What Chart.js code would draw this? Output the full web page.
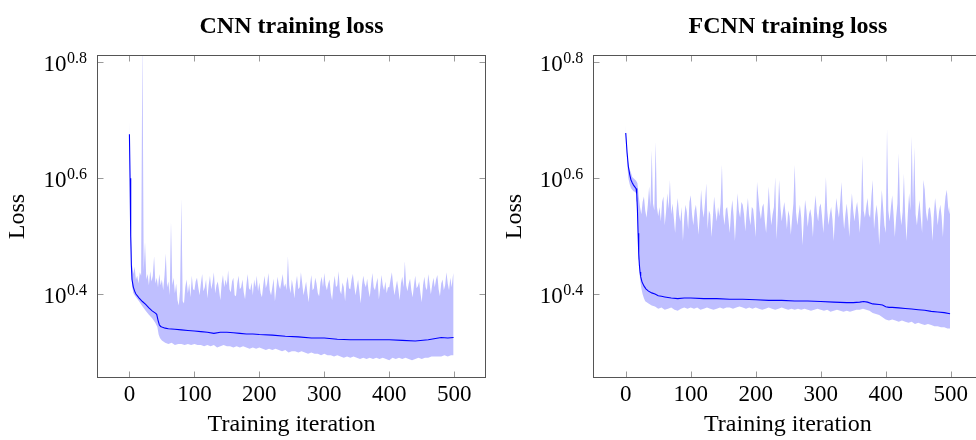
<!DOCTYPE html>
<html>
<head>
<meta charset="utf-8">
<script src="https://cdn.jsdelivr.net/npm/chart.js@4.4.1/dist/chart.umd.min.js"></script>
<style>
  html, body { margin: 0; padding: 0; background: #fff; overflow: hidden; width: 976px; height: 440px; }
  canvas { position: absolute; top: 0; }
  #cnn { left: 0; }
  #fcnn { left: 490px; }
</style>
</head>
<body>
<canvas id="cnn" width="490" height="440"></canvas>
<canvas id="fcnn" width="500" height="440"></canvas>
<script>
// axis setup
const X_MIN = -49.9;
const X_MAX = 548.9;
const X_TICKS = [0, 100, 200, 300, 400, 500];
const Y_TICK_EXP = [0.4, 0.6, 0.8];
const Y_TICK_LABELS = ["0.4", "0.6", "0.8"];
const Y_MIN_EXP = 0.255;
const Y_MAX_EXP = 0.8126;

// iterations where the upper edge of the band was read (both panels)
const UP_ITERS = [
  0, 2, 4, 6, 8, 10, 12, 14, 16, 18, 20, 22, 24, 26, 28, 30, 32, 34, 36, 38, 40, 42, 44, 46, 48,
  50, 52, 54, 56, 58, 60, 62, 64, 66, 68, 70, 72, 74, 76, 78, 80, 82, 84, 86, 88, 90, 92, 94, 96, 98,
  100, 102, 104, 106, 108, 110, 112, 114, 116, 118, 120, 122, 124, 126, 128, 130, 132, 134, 136, 138, 140, 142, 144, 146, 148,
  150, 152, 154, 156, 158, 160, 162, 164, 166, 168, 170, 172, 174, 176, 178, 180, 182, 184, 186, 188, 190, 192, 194, 196, 198,
  200, 202, 204, 206, 208, 210, 212, 214, 216, 218, 220, 222, 224, 226, 228, 230, 232, 234, 236, 238, 240, 242, 244, 246, 248,
  250, 252, 254, 256, 258, 260, 262, 264, 266, 268, 270, 272, 274, 276, 278, 280, 282, 284, 286, 288, 290, 292, 294, 296, 298,
  300, 302, 304, 306, 308, 310, 312, 314, 316, 318, 320, 322, 324, 326, 328, 330, 332, 334, 336, 338, 340, 342, 344, 346, 348,
  350, 352, 354, 356, 358, 360, 362, 364, 366, 368, 370, 372, 374, 376, 378, 380, 382, 384, 386, 388, 390, 392, 394, 396, 398,
  400, 402, 404, 406, 408, 410, 412, 414, 416, 418, 420, 422, 424, 426, 428, 430, 432, 434, 436, 438, 440, 442, 444, 446, 448,
  450, 452, 454, 456, 458, 460, 462, 464, 466, 468, 470, 472, 474, 476, 478, 480, 482, 484, 486, 488, 490, 492, 494, 496, 498,
  499
];

// ---- CNN ----
const CNN_MEAN_ITERS = [0, 1, 2, 3, 4, 6, 8, 10, 15, 20, 25, 30, 35, 40, 42, 44, 46, 48, 50, 55, 60, 70, 80, 90, 100,
  110, 120, 130, 140, 150, 160, 170, 180, 190, 200, 220, 240, 260, 280, 300, 320, 340, 360, 380, 400, 420, 440, 460, 480, 490, 499];
const CNN_MEAN = [4.742, 3.981, 3.162, 2.818, 2.661, 2.582, 2.541, 2.512, 2.472, 2.438, 2.410, 2.377, 2.349, 2.328, 2.317, 2.265, 2.223, 2.208, 2.203, 2.193, 2.188, 2.183, 2.178, 2.173, 2.168,
  2.163, 2.158, 2.148, 2.158, 2.158, 2.153, 2.148, 2.143, 2.143, 2.138, 2.133, 2.123, 2.118, 2.109, 2.109, 2.099, 2.094, 2.094, 2.094, 2.094, 2.089, 2.084, 2.094, 2.113, 2.109, 2.113];

const CNN_LOW_ITERS = [0, 2, 4, 6, 8, 10, 15, 20, 25, 30, 35, 40, 43, 45, 47, 50,
  55, 60, 65, 70, 75, 80, 85, 90, 95, 100, 105, 110, 115, 120, 125, 130, 135, 140, 145, 150,
  155, 160, 165, 170, 175, 180, 185, 190, 195, 200, 205, 210, 215, 220, 225, 230, 235, 240, 245, 250,
  255, 260, 265, 270, 275, 280, 285, 290, 295, 300, 305, 310, 315, 320, 325, 330, 335, 340, 345, 350,
  355, 360, 365, 370, 375, 380, 385, 390, 395, 400, 405, 410, 415, 420, 425, 430, 435, 440, 445, 450,
  455, 460, 465, 470, 475, 480, 485, 490, 495, 499];
const CNN_LOW = [4.677, 3.090, 2.600, 2.523, 2.500, 2.483, 2.438, 2.393, 2.349, 2.312, 2.280, 2.239, 2.203, 2.138, 2.109, 2.089,
  2.07, 2.06, 2.07, 2.05, 2.06, 2.06, 2.05, 2.06, 2.05, 2.06, 2.05, 2.05, 2.04, 2.05, 2.04, 2.05, 2.03, 2.04, 2.05, 2.04,
  2.04, 2.03, 2.04, 2.03, 2.04, 2.03, 2.02, 2.03, 2.02, 2.03, 2.02, 2.01, 2.02, 2.01, 2.02, 2.01, 2.00, 2.01, 1.99, 2.00,
  2.00, 1.99, 2.00, 1.99, 1.98, 1.99, 1.98, 1.98, 1.97, 1.98, 1.97, 1.97, 1.96, 1.97, 1.96, 1.95, 1.96, 1.95, 1.96, 1.95,
  1.94, 1.95, 1.94, 1.95, 1.94, 1.95, 1.94, 1.95, 1.94, 1.93, 1.95, 1.94, 1.95, 1.94, 1.95, 1.94, 1.93, 1.94, 1.95, 1.94,
  1.95, 1.95, 1.96, 1.96, 1.96, 1.96, 1.97, 1.96, 1.97, 1.97];

const CNN_UP = [
  5.01, 3.30, 2.82, 2.72, 2.80, 2.66, 2.70, 2.62, 2.74, 2.70, 7.08, 2.75, 3.09, 2.66, 2.72, 2.60, 2.75, 2.64, 2.70, 2.92, 2.62, 2.68, 2.58, 2.72, 2.60,
  2.66, 2.55, 2.70, 2.95, 2.58, 2.64, 2.50, 3.35, 2.60, 2.68, 2.52, 2.62, 2.45, 2.40, 2.55, 3.67, 2.44, 2.42, 2.58, 2.66, 2.52, 2.62, 2.48, 2.70, 2.56,
  2.55, 2.64, 2.68, 2.58, 2.50, 2.62, 2.72, 2.54, 2.58, 2.66, 2.47, 2.60, 2.70, 2.56, 2.63, 2.74, 2.52, 2.60, 2.64, 2.55, 2.45, 2.62, 2.71, 2.58, 2.66,
  2.60, 2.76, 2.56, 2.53, 2.64, 2.68, 2.50, 2.49, 2.62, 2.70, 2.56, 2.58, 2.66, 2.53, 2.46, 2.60, 2.72, 2.57, 2.55, 2.63, 2.50, 2.66, 2.58, 2.70, 2.54,
  2.63, 2.52, 2.48, 2.60, 2.70, 2.57, 2.62, 2.73, 2.55, 2.50, 2.58, 2.67, 2.44, 2.56, 2.69, 2.60, 2.56, 2.64, 2.72, 2.58, 2.62, 2.55, 2.92, 2.60, 2.52,
  2.66, 2.58, 2.47, 2.61, 2.70, 2.56, 2.58, 2.74, 2.62, 2.50, 2.57, 2.64, 2.52, 2.43, 2.60, 2.71, 2.55, 2.57, 2.68, 2.62, 2.52, 2.49, 2.63, 2.69, 2.58,
  2.73, 2.60, 2.55, 2.62, 2.66, 2.52, 2.45, 2.60, 2.70, 2.58, 2.60, 2.75, 2.55, 2.51, 2.63, 2.58, 2.44, 2.62, 2.69, 2.57, 2.56, 2.66, 2.72, 2.60, 2.50,
  2.58, 2.66, 2.54, 2.42, 2.60, 2.70, 2.62, 2.58, 2.67, 2.55, 2.48, 2.61, 2.73, 2.58, 2.55, 2.62, 2.68, 2.46, 2.57, 2.71, 2.60, 2.55, 2.64, 2.52, 2.58,
  2.58, 2.66, 2.74, 2.60, 2.50, 2.58, 2.65, 2.56, 2.45, 2.62, 2.69, 2.58, 2.86, 2.60, 2.54, 2.62, 2.67, 2.55, 2.48, 2.60, 2.70, 2.57, 2.59, 2.64, 2.52,
  2.43, 2.60, 2.69, 2.58, 2.55, 2.72, 2.62, 2.51, 2.60, 2.68, 2.58, 2.66, 2.71, 2.56, 2.49, 2.62, 2.66, 2.55, 2.60, 2.74, 2.62, 2.55, 2.68, 2.58, 2.70,
  2.73
];

// ---- FCNN ----
const FCNN_MEAN_ITERS = [0, 2, 4, 6, 8, 10, 12, 14, 16, 17, 18, 19, 20, 21, 22, 23, 25, 28, 31, 35, 40, 45, 50, 55, 60,
  70, 80, 90, 100, 120, 140, 160, 180, 200, 220, 240, 260, 280, 300, 320, 340, 350, 360, 366, 372, 380, 390, 395, 400,
  405, 410, 420, 430, 440, 450, 460, 470, 480, 490, 499];
const FCNN_MEAN = [4.764, 4.416, 4.169, 4.046, 3.954, 3.908, 3.873, 3.846, 3.819, 3.733, 3.508, 3.199, 2.951, 2.818, 2.742, 2.692, 2.636, 2.594, 2.564, 2.541, 2.523, 2.512, 2.495, 2.489, 2.483,
  2.472, 2.466, 2.472, 2.472, 2.466, 2.466, 2.460, 2.460, 2.455, 2.449, 2.449, 2.443, 2.443, 2.438, 2.432, 2.427, 2.427, 2.432, 2.438, 2.432, 2.415, 2.410, 2.404, 2.388,
  2.382, 2.382, 2.377, 2.371, 2.366, 2.360, 2.355, 2.344, 2.339, 2.333, 2.323];

const FCNN_LOW_ITERS = [0, 2, 4, 6, 8, 10, 12, 14, 16, 17, 18, 19, 20, 22, 24, 26, 28, 30, 35, 40,
  45, 50, 55, 60, 65, 70, 75, 80, 85, 90, 95, 100, 105, 110, 115, 120, 125, 130, 135, 140, 145, 150,
  155, 160, 165, 170, 175, 180, 185, 190, 195, 200, 205, 210, 215, 220, 225, 230, 235, 240, 245, 250,
  255, 260, 265, 270, 275, 280, 285, 290, 295, 300, 305, 310, 315, 320, 325, 330, 335, 340, 345, 350,
  355, 360, 365, 370, 375, 380, 385, 390, 395, 400, 405, 410, 415, 420, 425, 430, 435, 440, 445, 450,
  455, 460, 465, 470, 475, 480, 485, 490, 495, 499];
const FCNN_LOW = [4.70, 4.27, 3.98, 3.89, 3.83, 3.80, 3.78, 3.77, 3.75, 3.63, 3.39, 3.13, 2.88, 2.66, 2.57, 2.51, 2.47, 2.44, 2.42, 2.40,
  2.39, 2.37, 2.38, 2.36, 2.37, 2.38, 2.36, 2.35, 2.37, 2.38, 2.37, 2.38, 2.37, 2.38, 2.36, 2.37, 2.38, 2.37, 2.36, 2.37, 2.38, 2.37,
  2.38, 2.38, 2.37, 2.38, 2.39, 2.38, 2.37, 2.38, 2.37, 2.38, 2.37, 2.36, 2.37, 2.38, 2.37, 2.36, 2.37, 2.38, 2.37, 2.36,
  2.37, 2.36, 2.37, 2.36, 2.37, 2.36, 2.35, 2.36, 2.37, 2.36, 2.35, 2.36, 2.34, 2.35, 2.36, 2.35, 2.34, 2.35, 2.34, 2.35,
  2.36, 2.36, 2.37, 2.36, 2.35, 2.33, 2.32, 2.31, 2.29, 2.27, 2.26, 2.27, 2.26, 2.25, 2.26, 2.25, 2.24, 2.25, 2.23, 2.24,
  2.23, 2.22, 2.23, 2.22, 2.21, 2.21, 2.20, 2.20, 2.19, 2.19];

const FCNN_UP = [
  4.92, 4.40, 4.22, 4.12, 4.07, 4.00, 3.98, 3.96, 3.94, 3.90, 3.70, 3.55, 3.45, 3.62, 3.70, 3.50, 3.40, 3.58, 3.85, 3.55, 4.45, 3.60, 3.50, 4.60, 3.55,
  3.42, 3.55, 3.35, 3.62, 3.70, 3.30, 3.48, 3.75, 3.52, 3.95, 3.45, 3.60, 3.40, 3.20, 3.50, 3.68, 3.45, 3.35, 3.55, 3.10, 3.40, 3.58, 3.48, 3.25, 3.62,
  3.72, 3.45, 3.30, 3.50, 3.58, 3.40, 3.18, 3.45, 3.80, 3.52, 3.40, 3.62, 3.90, 3.25, 3.50, 3.45, 3.15, 3.40, 3.70, 3.50, 3.35, 3.55, 3.42, 3.60, 4.20,
  3.45, 3.30, 3.52, 3.55, 3.38, 3.20, 3.48, 3.65, 3.42, 3.10, 3.40, 3.75, 3.50, 3.40, 3.62, 3.58, 3.45, 3.22, 3.48, 3.68, 3.42, 3.30, 3.55, 3.52, 3.35,
  3.15, 3.92, 3.70, 3.50, 3.38, 3.55, 3.60, 3.35, 3.20, 3.48, 3.85, 3.52, 3.30, 3.45, 3.55, 4.00, 3.12, 3.45, 3.95, 3.55, 3.35, 3.50, 3.62, 3.45, 3.25,
  3.50, 3.42, 3.18, 3.40, 3.60, 4.20, 3.48, 3.30, 3.45, 3.58, 3.40, 3.05, 3.38, 3.65, 3.50, 3.28, 3.45, 3.52, 3.40, 3.15, 3.50, 3.72, 3.48, 3.35, 3.55,
  3.60, 3.42, 3.20, 3.48, 4.00, 3.50, 3.30, 3.45, 3.55, 3.38, 3.10, 3.42, 3.68, 3.52, 3.40, 3.62, 3.92, 3.48, 3.25, 3.45, 3.60, 3.40, 3.15, 3.50, 3.75,
  3.50, 3.35, 3.52, 3.62, 3.45, 3.20, 3.48, 4.35, 3.50, 3.40, 3.55, 3.68, 3.45, 3.40, 3.70, 3.95, 3.25, 3.45, 3.58, 3.40, 3.05, 3.42, 3.80, 3.55, 3.30,
  3.20, 4.85, 3.50, 3.35, 3.55, 3.72, 3.45, 3.15, 3.40, 3.60, 4.40, 3.50, 3.30, 3.48, 4.05, 3.42, 3.10, 3.45, 3.75, 3.50, 4.70, 3.55, 4.50, 3.45, 3.30,
  3.48, 3.65, 3.40, 3.20, 3.95, 3.80, 3.48, 3.35, 3.52, 3.55, 3.40, 3.10, 3.45, 3.68, 3.50, 3.30, 3.48, 3.58, 3.42, 3.15, 3.50, 3.70, 3.80, 3.55, 3.45,
  3.58
];

const BAND = "#bfbfff";
const LINE = "#0000ff";
const SERIF = '"Liberation Serif", "Times New Roman", serif';

Chart.defaults.font.family = SERIF;
Chart.defaults.color = "#000";

function pts(xs, ys) {
  return xs.map((x, i) => ({ x: x, y: ys[i] }));
}

// frame with inward ticks on all four sides, like pgfplots
const framePlugin = {
  id: "frame",
  afterDatasetsDraw(chart) {
    const { ctx, chartArea: a, scales } = chart;
    const L = Math.round(a.left) + 0.5, R = Math.round(a.right) - 0.5;
    const T = Math.round(a.top) + 0.5, B = Math.round(a.bottom) - 0.5;
    ctx.save();
    ctx.lineWidth = 1;
    ctx.strokeStyle = "#9a9a9a";
    ctx.beginPath();
    X_TICKS.forEach(v => {
      const x = Math.round(scales.x.getPixelForValue(v)) + 0.5;
      ctx.moveTo(x, B); ctx.lineTo(x, B - 6);
      ctx.moveTo(x, T); ctx.lineTo(x, T + 6);
    });
    Y_TICK_EXP.forEach(e => {
      const y = Math.round(scales.y.getPixelForValue(Math.pow(10, e))) + 0.5;
      ctx.moveTo(L, y); ctx.lineTo(L + 6, y);
      ctx.moveTo(R, y); ctx.lineTo(R - 6, y);
    });
    ctx.stroke();
    ctx.strokeStyle = "#555";
    ctx.strokeRect(L, T, R - L, B - T);
    ctx.restore();
  }
};

// 10^x style labels for the log axis
const yLabelPlugin = {
  id: "yLabels",
  afterDraw(chart) {
    const { ctx, chartArea, scales } = chart;
    ctx.save();
    ctx.fillStyle = "#000";
    ctx.textBaseline = "alphabetic";
    ctx.textAlign = "right";
    Y_TICK_EXP.forEach((e, i) => {
      const y = scales.y.getPixelForValue(Math.pow(10, e));
      const right = chartArea.left - 10;
      ctx.font = "16px " + SERIF;
      ctx.fillText(Y_TICK_LABELS[i], right, y + 1);
      const w = ctx.measureText(Y_TICK_LABELS[i]).width;
      ctx.font = "23px " + SERIF;
      ctx.fillText("10", right - w - 0.5, y + 8.7);
    });
    ctx.restore();
  }
};

function makeChart(id, title, d, padLeft, padRight) {
  return new Chart(document.getElementById(id), {
    type: "line",
    data: {
      datasets: [
        { data: pts(d.lowIters, d.low), order: 2, borderColor: "rgba(0,0,0,0)", borderWidth: 0, pointRadius: 0, fill: false },
        { data: pts(UP_ITERS, d.up), order: 1, borderColor: "rgba(0,0,0,0)", borderWidth: 0, pointRadius: 0, fill: "-1", backgroundColor: BAND },
        { data: pts(d.meanIters, d.mean), order: 0, borderColor: LINE, borderWidth: 1.1, pointRadius: 0, fill: false }
      ]
    },
    options: {
      responsive: false,
      animation: false,
      events: [],
      layout: { padding: { left: padLeft, right: padRight, top: 0, bottom: 0 } },
      plugins: {
        legend: { display: false },
        tooltip: { enabled: false },
        title: {
          display: true,
          text: title,
          fullSize: false,
          color: "#000",
          font: { family: SERIF, size: 24, weight: "bold" },
          padding: { top: 12, bottom: 14.2 }
        }
      },
      scales: {
        x: {
          type: "linear",
          min: X_MIN,
          max: X_MAX,
          afterBuildTicks: s => { s.ticks = X_TICKS.map(v => ({ value: v })); },
          afterFit: s => { s.height = 62; },
          grid: { display: false, drawTicks: false },
          border: { display: false },
          ticks: { autoSkip: false, maxRotation: 0, padding: 3, font: { size: 23 } },
          title: { display: true, text: "Training iteration", font: { size: 24 }, padding: { top: 0, bottom: 1 } }
        },
        y: {
          type: "logarithmic",
          min: Math.pow(10, Y_MIN_EXP),
          max: Math.pow(10, Y_MAX_EXP),
          afterBuildTicks: s => { s.ticks = Y_TICK_EXP.map(e => ({ value: Math.pow(10, e) })); },
          afterFit: s => { s.width = 97; },
          grid: { display: false, drawTicks: false },
          border: { display: false },
          ticks: { display: false },
          title: { display: true, text: "Loss", font: { size: 24 }, padding: { top: 3.6, bottom: 0 } }
        }
      }
    },
    plugins: [framePlugin, yLabelPlugin]
  });
}

makeChart("cnn", "CNN training loss", {
  lowIters: CNN_LOW_ITERS, low: CNN_LOW, up: CNN_UP, meanIters: CNN_MEAN_ITERS, mean: CNN_MEAN
}, 0, 4);

makeChart("fcnn", "FCNN training loss", {
  lowIters: FCNN_LOW_ITERS, low: FCNN_LOW, up: FCNN_UP, meanIters: FCNN_MEAN_ITERS, mean: FCNN_MEAN
}, 6.3, 7.5);
</script>
</body>
</html>
